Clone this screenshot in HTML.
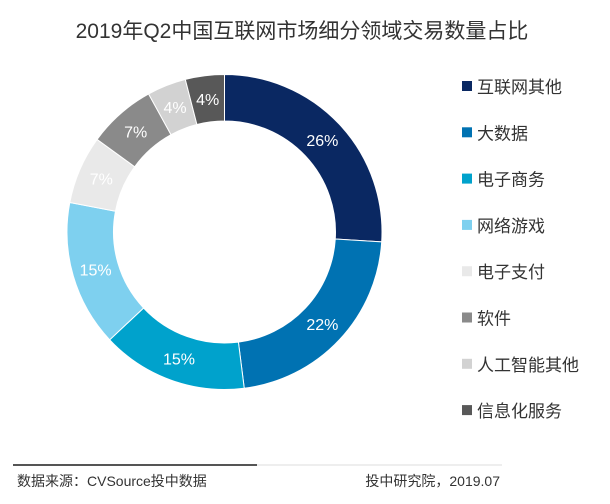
<!DOCTYPE html>
<html><head><meta charset="utf-8"><style>
body{margin:0;background:#fff;width:610px;height:499px;overflow:hidden;font-family:"Liberation Sans","Noto Sans CJK SC",sans-serif;}
</style></head><body>
<svg id="chart" width="610" height="499">
<text x="302" y="38" text-anchor="middle" font-size="21" fill="#333">2019年Q2中国互联网市场细分领域交易数量占比</text>
<g id="slices"></g>
<g id="legend"></g>
<line x1="13" y1="465" x2="257" y2="465" stroke="#555" stroke-width="2"/>
<line x1="257" y1="465" x2="502" y2="465" stroke="#eee" stroke-width="2"/>
<text x="17" y="486" font-size="14" fill="#333">数据来源：CVSource投中数据</text>
<text x="500" y="486" font-size="14" fill="#333" text-anchor="end">投中研究院，2019.07</text>
</svg>
<script>
const categories=["互联网其他","大数据","电子商务","网络游戏","电子支付","软件","人工智能其他","信息化服务"];
const values=[26,22,15,15,7,7,4,4];
const labels=["26%","22%","15%","15%","7%","7%","4%","4%"];
const colors=["#0a2862","#0072b2","#00a2cc","#7ed0ef","#e9e9e9","#8a8a8a","#d2d2d2","#585858"];
const NS="http://www.w3.org/2000/svg";
const cx=224.5,cy=232,R=157.5,r=111;
const total=values.reduce((a,b)=>a+b,0);
function pt(a,rad){return [cx+rad*Math.sin(a),cy-rad*Math.cos(a)];}
const g=document.getElementById('slices');
let acc=0;
values.forEach((v,i)=>{
  const a0=acc/total*2*Math.PI;acc+=v;const a1=acc/total*2*Math.PI;
  const big=(a1-a0)>Math.PI?1:0;
  const p0=pt(a0,R),p1=pt(a1,R),q1=pt(a1,r),q0=pt(a0,r);
  const p=document.createElementNS(NS,'path');
  p.setAttribute('d',`M${p0}A${R},${R} 0 ${big} 1 ${p1}L${q1}A${r},${r} 0 ${big} 0 ${q0}Z`);
  p.setAttribute('fill',colors[i]);p.setAttribute('stroke','#fff');p.setAttribute('stroke-width','1');
  
  
  g.appendChild(p);
  const m=pt((a0+a1)/2,(R+r)/2);
  const t=document.createElementNS(NS,'text');
  t.setAttribute('x',m[0]);t.setAttribute('y',m[1]+6);t.setAttribute('text-anchor','middle');
  t.setAttribute('font-size','16');t.setAttribute('fill','#fff');
  t.textContent=labels[i];
  
  
  g.appendChild(t);
});
const lg=document.getElementById('legend');
categories.forEach((c,i)=>{
  const y=86+i*46.3;
  const e=document.createElementNS(NS,'g');
  
  
  const s=document.createElementNS(NS,'rect');
  s.setAttribute('x',462);s.setAttribute('y',y-5);s.setAttribute('width',10);s.setAttribute('height',10);s.setAttribute('fill',colors[i]);
  e.appendChild(s);
  const t=document.createElementNS(NS,'text');
  t.setAttribute('x',477);t.setAttribute('y',y+7);t.setAttribute('font-size','17');t.setAttribute('fill','#333');
  t.textContent=c;e.appendChild(t);
  lg.appendChild(e);
});
</script>
</body></html>
